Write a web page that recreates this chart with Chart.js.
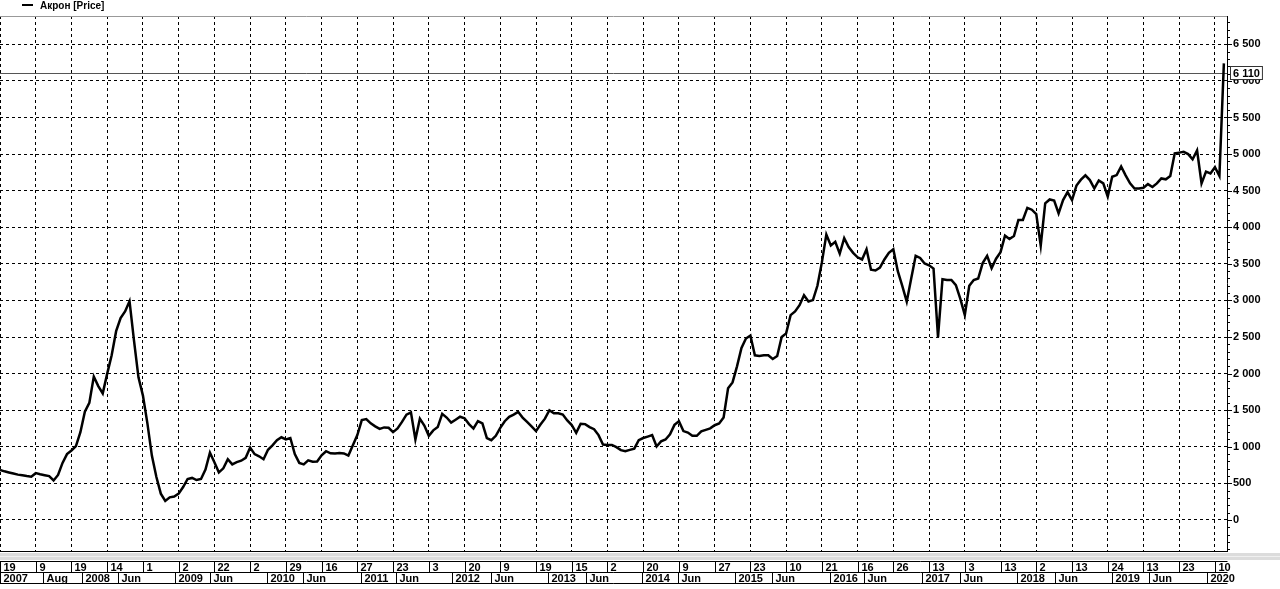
<!DOCTYPE html>
<html>
<head>
<meta charset="utf-8">
<script src="https://cdn.jsdelivr.net/npm/chart.js@4.4.1/dist/chart.umd.min.js"></script>
<style>
  html, body { margin: 0; padding: 0; background: #fff; }
</style>
</head>
<body>
<canvas id="acron" width="1280" height="589"></canvas>
<script>
// Акрон, цена закрытия, 2007 - янв 2020 (одна точка ~ каждые 12 торговых дней)
const seriesName = 'Акрон [Price]';
const lastPrice = 6110;
const barsPerCell = 8;

const prices = [
  683, 665, 650, 635, 620, 610, 600, 592, 640, 625,
  612, 600, 540, 615, 780, 900, 950, 1010, 1200, 1480,
  1600, 1960, 1830, 1730, 2000, 2250, 2580, 2760, 2850, 2990,
  2450, 1950, 1700, 1320, 880, 590, 360, 260, 310, 320,
  360, 450, 560, 575, 546, 560, 690, 920, 790, 650,
  706, 830, 760, 790, 810, 850, 990, 900, 870, 830,
  960, 1020, 1090, 1130, 1100, 1120, 900, 780, 760, 815,
  797, 800, 885, 940, 911, 910, 915, 910, 880, 1020,
  1160, 1366, 1380, 1320, 1280, 1245, 1265, 1260, 1200, 1250,
  1340, 1440, 1470, 1100, 1385, 1290, 1150, 1225, 1270, 1450,
  1400, 1330, 1370, 1411, 1390, 1310, 1250, 1350, 1320, 1120,
  1090, 1150, 1260, 1350, 1410, 1440, 1478, 1400, 1340, 1278,
  1215, 1305, 1385, 1500, 1457, 1457, 1440, 1360, 1298, 1190,
  1315, 1310, 1270, 1240, 1160, 1030, 1025, 1025, 995, 955,
  940, 958, 975, 1090, 1120, 1140, 1161, 1005, 1075, 1100,
  1170, 1300, 1350, 1215, 1195, 1150, 1150, 1210, 1232, 1252,
  1295, 1318, 1400, 1800, 1880, 2100, 2350, 2480, 2520, 2250,
  2240, 2250, 2250, 2200, 2240, 2500, 2550, 2800, 2850, 2935,
  3070, 2985, 3005, 3200, 3520, 3900, 3750, 3800, 3640, 3850,
  3730, 3650, 3590, 3560, 3700, 3420, 3410, 3450, 3560, 3650,
  3700, 3400, 3200, 2983, 3300, 3610, 3580, 3505, 3480, 3435,
  2500, 3290, 3280, 3280, 3210, 3020, 2800, 3200, 3280, 3300,
  3510, 3610, 3440, 3570, 3660, 3885, 3840, 3880, 4100, 4100,
  4265, 4240, 4180, 3750, 4326, 4380, 4365, 4190, 4371, 4480,
  4371, 4570, 4650, 4710, 4645, 4530, 4640, 4600, 4420, 4690,
  4713, 4830, 4710, 4600, 4530, 4530, 4540, 4590, 4550, 4600,
  4667, 4655, 4700, 5010, 5020, 5030, 5000, 4930, 5050, 4600,
  4760, 4736, 4820, 4700, 6240
];

// число месяца на каждой вертикальной линии сетки
const dayLabels = ['19','9','19','14','1','2','22','2','29','16','27','23','3','20','9','19','15','2',
  '20','9','27','23','10','21','16','26','13','3','13','2','13','24','13','23','10'];

// нижний ряд: год / месяц и номер бара, где он начинается
const periodLabels = ['2007','Aug','2008','Jun','2009','Jun','2010','Jun','2011','Jun','2012','Jun','2013','Jun',
  '2014','Jun','2015','Jun','2016','Jun','2017','Jun','2018','Jun','2019','Jun','2020'];
const periodStarts = [0, 9.6, 18.4, 26.4, 39.2, 47.0, 59.8, 67.8, 80.8, 88.7, 101.2, 109.9, 122.7, 131.2,
  143.8, 151.8, 164.6, 172.9, 185.9, 193.5, 206.5, 215.0, 227.7, 236.2, 249.0, 257.3, 270.3];

const yTicks = [];
for (let v = 0; v <= 6500; v += 500) yTicks.push(v);

const fmt = v => String(v).replace(/\B(?=(\d{3})+(?!\d))/g, ' ');
const FONT = 'bold 11px "Liberation Sans", Arial, sans-serif';

const decor = {
  id: 'decor',
  beforeDraw(chart) {
    const c = chart.ctx;
    c.save();
    c.fillStyle = '#fff';
    c.fillRect(0, 0, chart.width, chart.height);
    c.restore();
  },
  beforeDatasetsDraw(chart) {
    const { ctx: c, chartArea: a, scales: { y } } = chart;
    const py = Math.round(y.getPixelForValue(lastPrice)) + 0.5;
    c.save();
    c.strokeStyle = '#555';
    c.lineWidth = 1;
    c.beginPath();
    c.moveTo(a.left, py);
    c.lineTo(a.right, py);
    c.stroke();
    c.restore();
  },
  afterDraw(chart) {
    const { ctx: c, chartArea: a, scales: { x, y } } = chart;
    c.save();
    c.lineWidth = 1;
    c.fillStyle = '#000';

    // верхняя граница
    c.strokeStyle = '#999';
    c.beginPath(); c.moveTo(0, a.top + 0.5); c.lineTo(a.right, a.top + 0.5); c.stroke();

    // ось цены и нижняя граница
    c.strokeStyle = '#000';
    c.beginPath();
    c.moveTo(a.right + 0.5, a.top); c.lineTo(a.right + 0.5, a.bottom);
    c.moveTo(0, a.bottom + 0.5); c.lineTo(a.right + 1, a.bottom + 0.5);
    c.stroke();

    // мелкие деления оси цены
    for (let v = -400; v <= 6800; v += 100) {
      const py = Math.round(y.getPixelForValue(v)) + 0.5;
      const len = v % 500 === 0 ? 5 : 3;
      c.beginPath(); c.moveTo(a.right, py); c.lineTo(a.right + len, py); c.stroke();
    }

    // метка последней цены
    const py = Math.round(y.getPixelForValue(lastPrice));
    c.font = FONT;
    c.textBaseline = 'middle';
    const tw = c.measureText(fmt(lastPrice)).width;
    c.fillStyle = '#fff';
    c.fillRect(a.right + 3, py - 7, tw + 6, 14);
    c.fillStyle = '#000';
    c.strokeStyle = '#333';
    c.strokeRect(a.right + 3.5, py - 6.5, tw + 5, 13);
    c.fillText(fmt(lastPrice), a.right + 6, py + 0.5);

    // легенда
    c.strokeStyle = '#000';
    c.lineWidth = 2;
    c.beginPath(); c.moveTo(22, 5); c.lineTo(33, 5); c.stroke();
    c.lineWidth = 1;
    c.font = 'bold 10px "Liberation Sans", Arial, sans-serif';
    c.textBaseline = 'alphabetic';
    c.fillText(seriesName, 40, 9);

    // полоса под графиком
    c.fillStyle = '#dcdcdc';
    c.fillRect(0, a.bottom + 2, chart.width, 7);
    c.fillStyle = '#f0f0f0';
    c.fillRect(0, a.bottom + 5, chart.width, 1);

    // ряды подписей времени
    const r1 = 561.5, r2 = 572.5, r3 = 583.5, right = a.right + 0.5;
    c.strokeStyle = '#000';
    c.beginPath();
    c.moveTo(0, r1); c.lineTo(right, r1);
    c.moveTo(0, r2); c.lineTo(right, r2);
    c.moveTo(0, r3); c.lineTo(right, r3);
    c.stroke();
    c.font = FONT;
    c.fillStyle = '#000';
    dayLabels.forEach((t, k) => {
      const px = Math.round(x.getPixelForValue(k * barsPerCell)) + 0.5;
      c.beginPath(); c.moveTo(px, r1); c.lineTo(px, r2); c.stroke();
      c.fillText(t, px + 3, r2 - 2);
    });
    periodLabels.forEach((t, k) => {
      const px = Math.round(x.getPixelForValue(periodStarts[k])) + 0.5;
      c.beginPath(); c.moveTo(px, r2); c.lineTo(px, r3); c.stroke();
      c.fillText(t, px + 3, r3 - 2);
    });
    c.restore();
  }
};

new Chart(document.getElementById('acron'), {
  type: 'line',
  data: {
    datasets: [{
      label: seriesName,
      data: prices.map((p, i) => ({ x: i, y: p })),
      borderColor: '#000',
      borderWidth: 2.5,
      pointRadius: 0,
      tension: 0,
      fill: false
    }]
  },
  options: {
    responsive: false,
    animation: false,
    devicePixelRatio: 1,
    layout: { padding: { top: 16, left: 0, right: 0, bottom: 0 } },
    plugins: { legend: { display: false }, tooltip: { enabled: false } },
    scales: {
      x: {
        type: 'linear',
        min: 0,
        max: 274.7,
        afterBuildTicks: s => { s.ticks = dayLabels.map((d, k) => ({ value: k * barsPerCell })); },
        afterFit: s => { s.height = 38; },
        ticks: { display: false, autoSkip: false },
        grid: { color: '#000', drawTicks: false },
        border: { display: false, dash: [3, 3] }
      },
      y: {
        position: 'right',
        min: -423.6,
        max: 6886.7,
        afterBuildTicks: s => { s.ticks = yTicks.map(v => ({ value: v })); },
        afterFit: s => { s.width = 53; },
        ticks: {
          autoSkip: false,
          padding: 6,
          color: '#000',
          font: { family: '"Liberation Sans", Arial, sans-serif', size: 11, weight: 'bold' },
          callback: v => fmt(v)
        },
        grid: { color: '#000', drawTicks: false },
        border: { display: false, dash: [3, 3] }
      }
    }
  },
  plugins: [decor]
});
</script>
</body>
</html>
